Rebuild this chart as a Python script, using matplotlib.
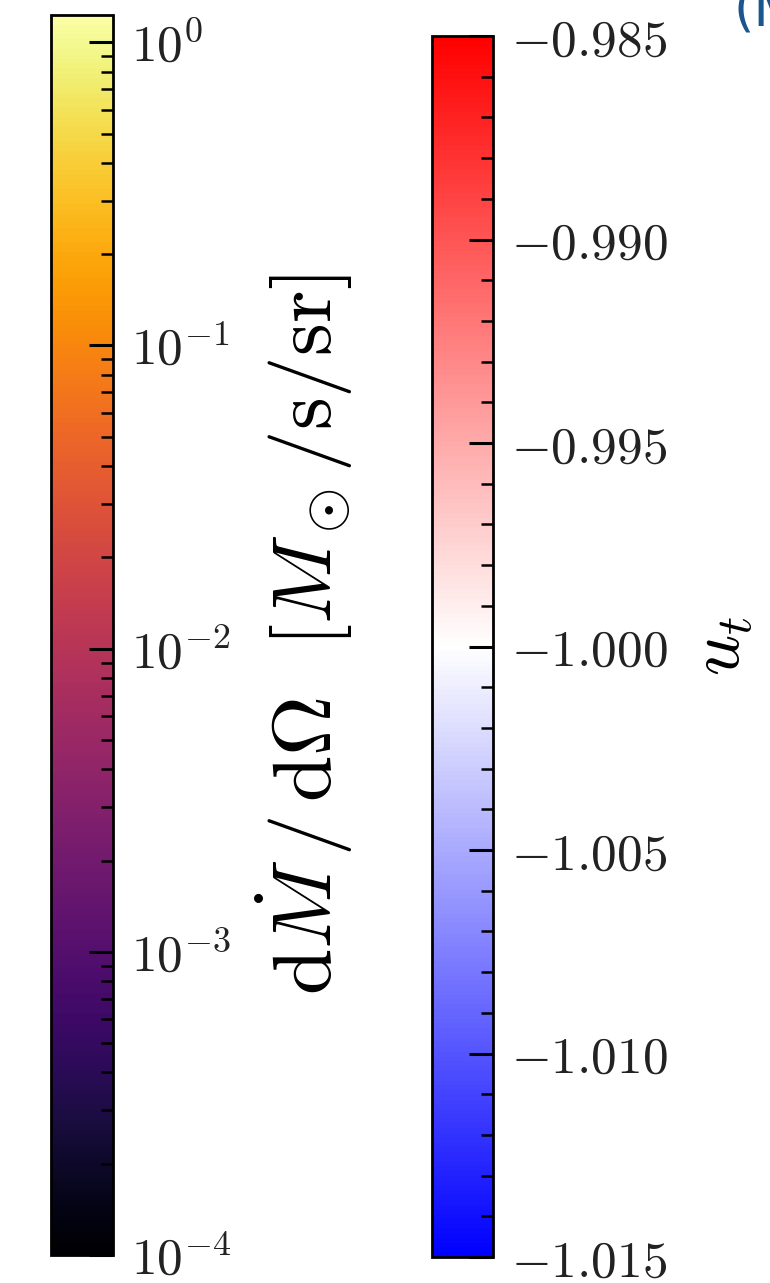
import numpy as np
import matplotlib
matplotlib.use('Agg')
import matplotlib.pyplot as plt
from matplotlib.colors import LogNorm, Normalize
from matplotlib.cm import ScalarMappable
from matplotlib.ticker import LogLocator, MultipleLocator

plt.rcParams['mathtext.fontset'] = 'cm'
plt.rcParams['font.family'] = ['DejaVu Serif']

# left bar: mass flux, log scale
mdot_lim = [1e-4, 1.23]
mdot_ticks = [1e-4, 1e-3, 1e-2, 1e-1, 1e0]
mdot_ticklabels = [r'$10^{-4}$', r'$10^{-3}$', r'$10^{-2}$', r'$10^{-1}$', r'$10^{0}$']
mdot_label = r'$\mathrm{d}\dot{M}\,/\,\mathrm{d}\Omega\ \ [M_\odot/\mathrm{s}/\mathrm{sr}]$'

# right bar: u_t
ut_lim = [-1.015, -0.985]
ut_ticks = [-1.015, -1.010, -1.005, -1.000, -0.995, -0.990, -0.985]
ut_ticklabels = [r'$%.3f$' % t for t in ut_ticks]
ut_label = r'$u_t$'

fig = plt.figure(figsize = (7.7, 12.83), dpi = 100)
W, H = 770, 1283

def px_axes(x0, x1, y0, y1):
    return fig.add_axes([x0 / W, (H - y1) / H, (x1 - x0) / W, (y1 - y0) / H])

cax1 = px_axes(51, 113, 15, 1255)
cax2 = px_axes(432, 493, 36, 1257)

cb1 = fig.colorbar(ScalarMappable(norm = LogNorm(*mdot_lim), cmap = 'inferno'), cax = cax1)
cb1.set_ticks(mdot_ticks)
cb1.set_ticklabels(mdot_ticklabels)
cax1.yaxis.set_minor_locator(LogLocator(base = 10, subs = np.arange(2, 10)))
cb1.set_label(mdot_label, fontsize = 60, labelpad = 16)

cb2 = fig.colorbar(ScalarMappable(norm = Normalize(*ut_lim), cmap = 'bwr'), cax = cax2)
cb2.set_ticks(ut_ticks)
cb2.set_ticklabels(ut_ticklabels)
cax2.yaxis.set_minor_locator(MultipleLocator(0.001))
cb2.set_label(ut_label, fontsize = 52, labelpad = 12)

for cb in (cb1, cb2):
    cb.outline.set_linewidth(2)
    cb.ax.tick_params(which = 'major', direction = 'in', length = 17, width = 2.2,
                      labelsize = 37, pad = 13, colors = 'black', labelcolor = '#222222')
    cb.ax.tick_params(which = 'minor', direction = 'in', length = 9, width = 1.8)
    cb.solids.set_rasterized(True)

# clipped text from the neighbouring panel
fig.text(0.953, 1.012, '(M', color = '#1a5590', fontsize = 38,
         family = 'DejaVu Sans', ha = 'left', va = 'top')

plt.savefig('out.png', dpi = 100)
